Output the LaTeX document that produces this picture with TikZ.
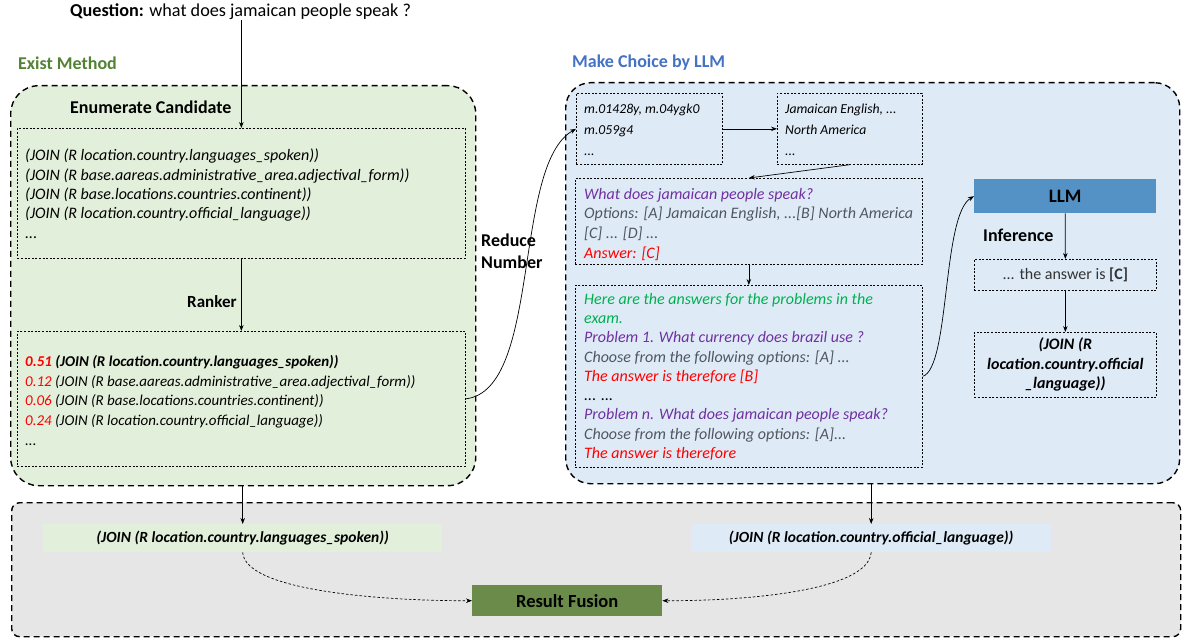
\documentclass[tikz,border=0pt]{standalone}
\usepackage{fontspec}
\setmainfont{Carlito}
\usetikzlibrary{arrows.meta}
\definecolor{gfill}{RGB}{226,239,218}
\definecolor{bfill}{RGB}{222,235,247}
\definecolor{grayfill}{RGB}{231,230,230}
\definecolor{rfcol}{RGB}{106,139,74}
\definecolor{llmcol}{RGB}{84,146,198}
\definecolor{gtitle}{RGB}{84,130,53}
\definecolor{btitle}{RGB}{68,114,196}
\definecolor{purp}{RGB}{112,48,160}
\definecolor{gtext}{RGB}{80,86,96}
\definecolor{greentext}{RGB}{0,176,80}
\definecolor{redtext}{RGB}{255,0,0}
\begin{document}
\begin{tikzpicture}[x=1pt,y=-1pt,
  outer/.style={draw, line width=1.4pt, dash pattern=on 6pt off 4pt, rounded corners=28pt, inner sep=0pt, anchor=north west},
  dbox/.style={draw, line width=0.7pt, dash pattern=on 2pt off 1.6pt, inner sep=0pt, anchor=north west},
  arr/.style={-{Stealth[length=6pt,width=4.5pt]}, line width=0.7pt},
  darr/.style={-{Stealth[length=6pt,width=4.5pt]}, line width=0.7pt, dash pattern=on 2.5pt off 2pt},
  lbl/.style={font=\fontsize{18}{21}\selectfont\bfseries, inner sep=0pt, anchor=west},
  code/.style={font=\fontsize{16}{19.3}\selectfont\itshape, align=left, inner sep=0pt, anchor=north west},
  small/.style={font=\fontsize{13.7}{21}\selectfont\itshape, align=left, inner sep=0pt, anchor=north west}
]
\useasboundingbox[fill=white] (0,0) rectangle (1184,642);

% outer containers
\node[outer, fill=gfill, minimum width=465pt, minimum height=400pt] (exist) at (10,85) {};
\node[outer, fill=bfill, minimum width=614pt, minimum height=401pt, rounded corners=25pt] (choice) at (565,82) {};
\node[outer, fill=grayfill, minimum width=1169pt, minimum height=134pt, rounded corners=8pt] (bottom) at (11,502) {};

% titles
\node[lbl, text=gtitle] (existt) at (18,63) {Exist Method};
\node[lbl, text=btitle] (choicet) at (572,63) {Make Choice by LLM};
\node[font=\fontsize{18.2}{21}\selectfont, inner sep=0pt, anchor=west] (q) at (70,12) {\textbf{Question:} what does jamaican people speak ?};

% left column
\node[dbox, minimum width=448pt, minimum height=130pt] (enum) at (17,128) {};
\node[lbl] (enumt) at (70,107) {Enumerate Candidate};
\node[code] (enumtxt) at (25,149) {(JOIN (R location.country.languages\_spoken))\\
(JOIN (R base.aareas.administrative\_area.adjectival\_form))\\
(JOIN (R base.locations.countries.continent))\\
(JOIN (R location.country.official\_language))\\
...};
\node[dbox, minimum width=448pt, minimum height=135pt] (rank) at (17,331) {};
\node[lbl, font=\fontsize{17}{20}\selectfont\bfseries] (rankt) at (187,302) {Ranker};
\node[code, font=\fontsize{15}{19.7}\selectfont\itshape] (ranktxt) at (25,355) {\textcolor{redtext}{\textbf{0.51}} \textbf{(JOIN (R location.country.languages\_spoken))}\\
\textcolor{redtext}{0.12} (JOIN (R base.aareas.administrative\_area.adjectival\_form))\\
\textcolor{redtext}{0.06} (JOIN (R base.locations.countries.continent))\\
\textcolor{redtext}{0.24} (JOIN (R location.country.official\_language))\\
...};
\node[lbl, align=left, anchor=north west, font=\fontsize{18}{22}\selectfont\bfseries] (reduce) at (481,234) {Reduce\\Number};

% right column
\node[dbox, minimum width=146pt, minimum height=71pt] (mbox) at (576,93) {};
\node[small] (mtxt) at (584,104) {m.01428y, m.04ygk0\\m.059g4\\...};
\node[dbox, minimum width=145pt, minimum height=71pt] (jam) at (777,93) {};
\node[small] (jtxt) at (785,104) {Jamaican English, ...\\North America\\...};
\node[dbox, minimum width=347pt, minimum height=86pt] (qbox) at (575,178) {};
\node[code, font=\fontsize{16}{19.6}\selectfont\itshape] (qtxt) at (584,188) {\textcolor{purp}{What does jamaican people speak?}\\
\textcolor{gtext}{Options: [A] Jamaican English, ...[B] North America}\\
\textcolor{gtext}{[C] ... [D] ...}\\
\textcolor{redtext}{Answer: [C]}};
\node[dbox, minimum width=347pt, minimum height=182pt] (pbox) at (575,285) {};
\node[code, font=\fontsize{16}{19.25}\selectfont\itshape] (ptxt) at (584,293) {\textcolor{greentext}{Here are the answers for the problems in the}\\
\textcolor{greentext}{exam.}\\
\textcolor{purp}{Problem 1. What currency does brazil use ?}\\
\textcolor{gtext}{Choose from the following options: [A] ...}\\
\textcolor{redtext}{The answer is therefore [B]}\\
\textcolor{black}{... ...}\\
\textcolor{purp}{Problem n. What does jamaican people speak?}\\
\textcolor{gtext}{Choose from the following options: [A]...}\\
\textcolor{redtext}{The answer is therefore}};

\node[fill=llmcol, minimum width=182pt, minimum height=34pt, inner sep=0pt, anchor=north west] (llm) at (974,179) {};
\node[font=\fontsize{19}{22}\selectfont\bfseries, inner sep=0pt] (llmt) at (llm.center) {LLM};
\node[lbl] (inft) at (983,235) {Inference};
\node[dbox, minimum width=182pt, minimum height=31pt] (ans) at (974,259) {};
\node[font=\fontsize{16}{19}\selectfont, text=black!80, inner sep=0pt] (anst) at (ans.center) {... the answer is \textbf{[C]}};
\node[dbox, minimum width=182pt, minimum height=65pt] (jbox) at (974,332) {};
\node[font=\fontsize{16}{19.5}\selectfont\bfseries\itshape, align=center, inner sep=0pt] (jtxt2) at (jbox.center) {(JOIN (R\\location.country.official\\\_language))};

% bottom
\node[fill=gfill, minimum width=399pt, minimum height=28pt, inner sep=0pt, anchor=north west, font=\fontsize{15.5}{18}\selectfont\bfseries\itshape] (gl) at (43,524) {(JOIN (R location.country.languages\_spoken))};
\node[fill=bfill, minimum width=360pt, minimum height=28pt, inner sep=0pt, anchor=north west, font=\fontsize{15.5}{18}\selectfont\bfseries\itshape] (bl) at (691,524) {(JOIN (R location.country.official\_language))};
\node[fill=rfcol, minimum width=190pt, minimum height=31pt, inner sep=0pt, anchor=north west, font=\fontsize{18.5}{21}\selectfont\bfseries] (rf) at (472,585) {Result Fusion};

% connectors
\draw[arr] (enum.north |- q.south) -- (enum.north);
\draw[arr] (enum.south) -- (rank.north);
\draw[arr] (rank.east) .. controls (542,390) and (512,165) .. (mbox.west);
\draw[arr] (mbox.east) -- (jam.west);
\draw[arr] (jam.south) -- (qbox.north);
\draw[arr] (qbox.south) -- (pbox.north);
\draw[arr] (pbox.east) .. controls (950,368) and (942,215) .. (llm.west);
\draw[arr] (llm.south) -- (ans.north);
\draw[arr] (ans.south) -- (jbox.north);
\draw[arr] (exist.south -| gl.north) -- (gl.north);
\draw[arr] (choice.south -| bl.north) -- (bl.north);
\draw[darr] (gl.south) .. controls (245,592) and (390,601) .. (rf.west);
\draw[darr] (bl.south) .. controls (868,592) and (740,601) .. (rf.east);
\end{tikzpicture}
\end{document}
